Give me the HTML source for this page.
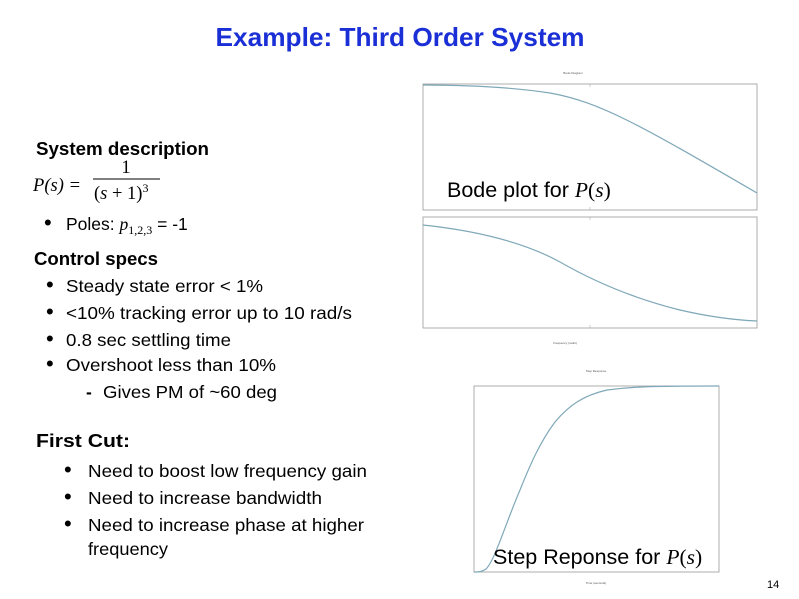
<!DOCTYPE html>
<html><head><meta charset="utf-8"><style>
html,body{margin:0;padding:0;background:#fff;}
svg{display:block;}
text{font-family:"Liberation Sans",sans-serif;}
.m{font-family:"Liberation Serif",serif;font-style:italic;}
.r{font-family:"Liberation Serif",serif;}
</style></head><body>
<svg width="799" height="599" viewBox="0 0 799 599" xmlns="http://www.w3.org/2000/svg">
<rect width="799" height="599" fill="#fff"/>
<text x="400" y="46" text-anchor="middle" font-size="26" font-weight="bold" fill="#1a2fd6" textLength="369" lengthAdjust="spacingAndGlyphs">Example: Third Order System</text>

<!-- Bode plot -->
<text x="573" y="74" text-anchor="middle" font-size="3" fill="#555">Bode Diagram</text>
<rect x="423" y="84" width="334" height="126" fill="none" stroke="#999" stroke-width="0.8"/>
<rect x="423" y="217" width="334" height="111" fill="none" stroke="#999" stroke-width="0.8"/>
<g stroke="#aaa" stroke-width="0.6">
<line x1="590" y1="84" x2="590" y2="87"/><line x1="590" y1="207" x2="590" y2="210"/>
<line x1="590" y1="217" x2="590" y2="220"/><line x1="590" y1="325" x2="590" y2="328"/>
</g>
<path d="M423,85 C470,85 510,87 550,93 C600,102 640,125 757,193" fill="none" stroke="#7fa8b8" stroke-width="1.2"/>
<path d="M423,225 C470,230 520,240 560,262 C600,285 640,300 680,310 C710,317 735,320 757,321" fill="none" stroke="#7fa8b8" stroke-width="1.2"/>
<text x="565" y="344" text-anchor="middle" font-size="3" fill="#555">Frequency (rad/s)</text>
<text x="447" y="197" font-size="21.5" fill="#000">Bode plot for <tspan class="m">P</tspan><tspan class="r">(</tspan><tspan class="m">s</tspan><tspan class="r">)</tspan></text>

<!-- Step response -->
<text x="596" y="372" text-anchor="middle" font-size="3" fill="#555">Step Response</text>
<rect x="474" y="386" width="245" height="186" fill="none" stroke="#999" stroke-width="0.8"/>
<path d="M474,572 C478,572 482,572 486,569 C495,560 505,525 520,490 C530,465 540,442 555,422 C570,404 585,395 607,390 C630,387 645,386 719,386" fill="none" stroke="#7fa8b8" stroke-width="1.2"/>
<text x="596" y="584" text-anchor="middle" font-size="3" fill="#555">Time (seconds)</text>
<text x="493" y="564" font-size="21.5" fill="#000">Step Reponse for <tspan class="m">P</tspan><tspan class="r">(</tspan><tspan class="m">s</tspan><tspan class="r">)</tspan></text>

<!-- Left text -->
<text x="36" y="155" font-size="18" font-weight="bold" textLength="173" lengthAdjust="spacingAndGlyphs">System description</text>
<text x="33" y="191" font-size="18.5" class="m">P<tspan class="r">(</tspan>s<tspan class="r">) =</tspan></text>
<text x="126" y="173" font-size="18.5" class="r" text-anchor="middle">1</text>
<line x1="93" y1="179" x2="160" y2="179" stroke="#000" stroke-width="1"/>
<text x="94" y="199" font-size="18.5" class="r">(<tspan class="m">s</tspan> + 1)<tspan font-size="12" dy="-7">3</tspan></text>
<text x="44" y="230" font-size="22">•</text>
<text x="66" y="230" font-size="17.5">Poles: <tspan class="m">p</tspan><tspan class="r" font-size="12" dy="4">1,2,3</tspan><tspan dy="-4"> = -1</tspan></text>
<text x="34" y="265" font-size="18" font-weight="bold" textLength="124" lengthAdjust="spacingAndGlyphs">Control specs</text>
<g font-size="17.5">
<text x="46" y="292" font-size="22">•</text><text x="66" y="292" textLength="197" lengthAdjust="spacingAndGlyphs">Steady state error &lt; 1%</text>
<text x="46" y="319" font-size="22">•</text><text x="66" y="319" textLength="286" lengthAdjust="spacingAndGlyphs">&lt;10% tracking error up to 10 rad/s</text>
<text x="46" y="346" font-size="22">•</text><text x="66" y="346" textLength="165" lengthAdjust="spacingAndGlyphs">0.8 sec settling time</text>
<text x="46" y="371" font-size="22">•</text><text x="66" y="371" textLength="210" lengthAdjust="spacingAndGlyphs">Overshoot less than 10%</text>
<text x="86" y="398" font-weight="bold">-</text><text x="103" y="398" textLength="174" lengthAdjust="spacingAndGlyphs">Gives PM of ~60 deg</text>
</g>
<text x="36" y="447" font-size="18" font-weight="bold" textLength="94" lengthAdjust="spacingAndGlyphs">First Cut:</text>
<g font-size="17.5">
<text x="64" y="477" font-size="22">•</text><text x="88" y="477" textLength="279" lengthAdjust="spacingAndGlyphs">Need to boost low frequency gain</text>
<text x="64" y="504" font-size="22">•</text><text x="88" y="504" textLength="234" lengthAdjust="spacingAndGlyphs">Need to increase bandwidth</text>
<text x="64" y="531" font-size="22">•</text><text x="88" y="531" textLength="276" lengthAdjust="spacingAndGlyphs">Need to increase phase at higher</text>
<text x="88" y="555" textLength="80" lengthAdjust="spacingAndGlyphs">frequency</text>
</g>
<text x="767" y="588" font-size="11">14</text>
</svg>
</body></html>
